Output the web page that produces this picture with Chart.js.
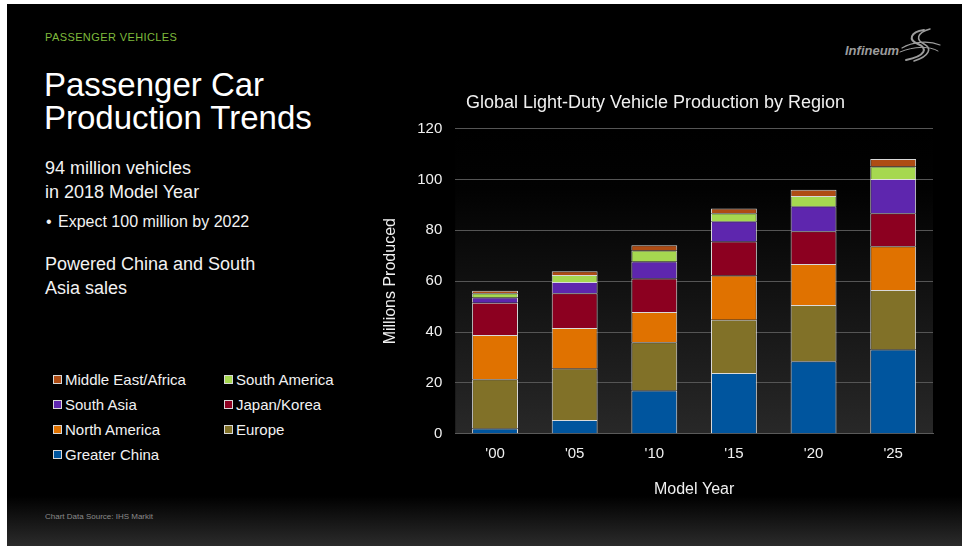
<!DOCTYPE html>
<html>
<head>
<meta charset="utf-8">
<script src="https://cdn.jsdelivr.net/npm/chart.js@4.4.1/dist/chart.umd.min.js"></script>
<style>
  html, body { margin: 0; padding: 0; background: #fff; }
  body { width: 962px; height: 546px; position: relative; overflow: hidden;
         font-family: Arial, "Liberation Sans", sans-serif; }
  .slide { position: absolute; left: 7px; top: 4px; width: 955px; height: 542px;
           background: linear-gradient(to bottom, #000 0px, #000 492px, #2b2b2b 542px); }
  .abs { position: absolute; color: #fff; white-space: nowrap; }
  .kicker { left: 45px; top: 31px; font-size: 11px; letter-spacing: 0.4px; color: #7fba3c; }
  .headline { left: 44px; top: 68px; font-size: 33px; line-height: 33px; }
  .copy { left: 45px; font-size: 18px; line-height: 24px; color: #f2f2f2; }
  .bullet { left: 46px; top: 213px; font-size: 16px; color: #f2f2f2; }
  .bullet b { font-weight: normal; display: inline-block; width: 12px; }
  .source { left: 45px; top: 512px; font-size: 8px; color: #8a8a8a; }
  #legend { position: absolute; left: 53px; top: 371px; display: grid;
            grid-template-columns: 171px 150px; row-gap: 8px; }
  #legend div { display: flex; align-items: center; font-size: 15px; color: #f2f2f2; height: 17px; }
  #legend span { display: inline-block; width: 7px; height: 7px; margin-right: 3px;
                 border: 1px solid #d8d8d8; }
  #chartBox { position: absolute; left: 378px; top: 87px; width: 562px; height: 417px; }
  .logo { position: absolute; left: 840px; top: 24px; }
</style>
</head>
<body>
<div class="slide"></div>
<div class="abs kicker">PASSENGER VEHICLES</div>
<div class="abs headline">Passenger Car<br>Production Trends</div>
<div class="abs copy" style="top:156px">94 million vehicles<br>in 2018 Model Year</div>
<div class="abs bullet"><b>•</b>Expect 100 million by 2022</div>
<div class="abs copy" style="top:252px">Powered China and South<br>Asia sales</div>
<div class="abs source">Chart Data Source: IHS Markit</div>
<svg class="logo" width="105" height="42" viewBox="0 0 105 42">
  <text x="5" y="31" font-family="Arial, 'Liberation Sans', sans-serif" font-size="13" font-style="italic"
        font-weight="bold" fill="#9c9c9c">Infineum</text>
  <g fill="none" stroke="#9c9c9c" stroke-linecap="round">
    <path d="M84 6 C 70 8, 68 16, 78 20 C 88 24, 86 32, 66 36" stroke-width="2"/>
    <path d="M90 5 C 76 9, 76 16, 84 20 C 92 24, 90 32, 74 37" stroke-width="1.5"/>
    <path d="M62 24 C 72 18, 88 16, 100 21" stroke-width="1.2"/>
    <path d="M60 28 C 74 22, 90 22, 98 27" stroke-width="1"/>
  </g>
</svg>
<div id="legend"></div>
<div id="chartBox"><canvas id="chart"></canvas></div>

<script>
// model years on the x axis
const modelYears = ["'00", "'05", "'10", "'15", "'20", "'25"];

// production in millions, per region (bottom of the stack first)
const greaterChina     = [2.1, 5.4, 17.0, 23.9, 28.5, 33.1];
const europe           = [19.3, 20.3, 19.0, 20.9, 22.1, 23.4];
const northAmerica     = [17.4, 15.9, 11.9, 17.4, 16.2, 17.2];
const japanKorea       = [12.7, 13.7, 13.2, 13.4, 12.8, 13.0];
const southAsia        = [2.1, 4.4, 6.6, 8.0, 9.9, 13.5];
const southAmerica     = [1.7, 2.7, 4.4, 3.1, 4.0, 4.9];
const middleEastAfrica = [0.9, 1.5, 2.0, 1.9, 2.5, 2.9];

const regionNames  = ["Greater China", "Europe", "North America", "Japan/Korea",
                      "South Asia", "South America", "Middle East/Africa"];
const regionValues = [greaterChina, europe, northAmerica, japanKorea,
                      southAsia, southAmerica, middleEastAfrica];
const regionColors = ["#00559e", "#817128", "#e07200", "#8c0020",
                      "#5e26ae", "#a6d850", "#ae4c14"];

const FONT = "Arial, 'Liberation Sans', sans-serif";

// dark gradient behind the plot area
const plotBackground = {
    id: "plotBackground",
    beforeDraw(chart) {
        const { ctx, chartArea: a } = chart;
        const g = ctx.createLinearGradient(0, a.top, 0, a.bottom);
        g.addColorStop(0, "#000");
        g.addColorStop(0.2, "#020202");
        g.addColorStop(1, "#282828");
        ctx.save();
        ctx.fillStyle = g;
        ctx.fillRect(a.left, a.top, a.right - a.left, a.bottom - a.top);
        ctx.restore();
    }
};

const datasets = regionNames.map((name, i) => ({
    label: name,
    data: regionValues[i],
    backgroundColor: regionColors[i],
    borderColor: "rgba(240,240,240,0.9)",
    borderWidth: 1,
    barPercentage: 0.72,
    categoryPercentage: 0.8
}));

const chart = new Chart(document.getElementById("chart"), {
    type: "bar",
    data: { labels: modelYears, datasets },
    options: {
        responsive: true,
        maintainAspectRatio: false,
        animation: false,
        layout: { padding: { right: 7, bottom: 5 } },
        scales: {
            x: {
                stacked: true,
                grid: { display: false, drawTicks: false },
                border: { display: true, color: "#5a5a5a", width: 1 },
                ticks: { color: "#f0f0f0", font: { family: FONT, size: 15 }, padding: 11 },
                title: { display: true, text: "Model Year", color: "#f0f0f0",
                         font: { family: FONT, size: 16 }, padding: { top: 6, bottom: 0 } }
            },
            y: {
                stacked: true,
                min: 0,
                max: 120,
                ticks: { stepSize: 20, color: "#f0f0f0", font: { family: FONT, size: 15 }, padding: 13 },
                grid: { color: "#555", drawTicks: false },
                border: { display: false },
                title: { display: true, text: "Millions Produced", color: "#f0f0f0",
                         font: { family: FONT, size: 16 }, padding: { top: 3, bottom: 4 } }
            }
        },
        plugins: {
            legend: { display: false },
            tooltip: { enabled: false },
            title: {
                display: true,
                text: "Global Light-Duty Vehicle Production by Region",
                color: "#f0f0f0",
                font: { family: FONT, size: 18, weight: "normal" },
                padding: { top: 5, bottom: 15 }
            }
        }
    },
    plugins: [plotBackground]
});

// legend in the left column, top of the stack first
const legendEl = document.getElementById("legend");
chart.data.datasets.slice().reverse().forEach(ds => {
    const item = document.createElement("div");
    const sw = document.createElement("span");
    sw.style.background = ds.backgroundColor;
    item.appendChild(sw);
    item.appendChild(document.createTextNode(ds.label));
    legendEl.appendChild(item);
});
</script>
</body>
</html>
